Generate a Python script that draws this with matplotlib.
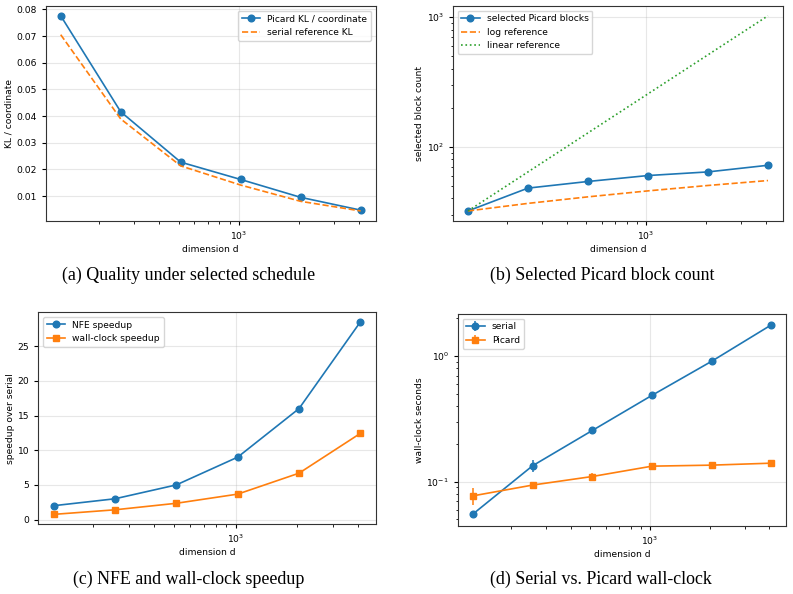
import matplotlib
matplotlib.use("Agg")
import matplotlib.pyplot as plt

# dimensions on the x axis (shared by all panels)
dims = [128, 256, 512, 1024, 2048, 4096]

# (a) quality
picard_kl = [0.0776, 0.0416, 0.0227, 0.0162, 0.0095, 0.0047]
serial_kl = [0.0705, 0.0389, 0.0213, 0.0141, 0.0080, 0.0044]

# (b) block count
picard_blocks = [32, 48, 54, 60, 64, 72]
log_ref = [32, 36.6, 41.1, 45.7, 50.3, 54.9]
linear_ref = [32, 64, 128, 256, 512, 1024]

# (c) speedups
nfe_speedup = [2.0, 3.0, 5.0, 9.0, 16.0, 28.5]
wall_speedup = [0.75, 1.41, 2.35, 3.67, 6.69, 12.43]

# (d) wall-clock seconds, mean and spread
serial_sec = [0.0552, 0.134, 0.256, 0.488, 0.912, 1.78]
serial_err = [0.002, 0.015, 0.012, 0.03, 0.03, 0.04]
picard_sec = [0.0771, 0.094, 0.110, 0.133, 0.1355, 0.1405]
picard_err = [0.012, 0.003, 0.008, 0.006, 0.004, 0.009]

captions = [
    "(a) Quality under selected schedule",
    "(b) Selected Picard block count",
    "(c) NFE and wall-clock speedup",
    "(d) Serial vs. Picard wall-clock",
]

W, H = 793, 594
FS = 6.6
plt.rcParams.update({
    "font.size": FS,
    "axes.labelsize": FS,
    "xtick.labelsize": FS,
    "ytick.labelsize": FS,
    "legend.fontsize": FS,
    "axes.linewidth": 0.8,
    "axes.edgecolor": "#333333",
    "xtick.major.width": 0.8,
    "ytick.major.width": 0.8,
    "xtick.major.size": 3,
    "ytick.major.size": 3,
    "xtick.minor.size": 1.8,
    "ytick.minor.size": 1.8,
    "axes.labelpad": 2,
})

fig = plt.figure(figsize=(W / 100, H / 100), dpi=100)


def add_ax(left, right, top, bottom):
    return fig.add_axes([left / W, 1 - bottom / H, (right - left) / W, (bottom - top) / H])


boxes = [
    (45.7, 375.7, 6, 220.7),
    (453, 783, 6, 220.7),
    (38.3, 375.7, 312.3, 524),
    (458, 786.3, 314, 525.7),
]
axes = [add_ax(*b) for b in boxes]

lw = 1.2
ms = 4.8

ax = axes[0]
ax.plot(dims, picard_kl, "o-", color="#1f77b4", lw=lw, ms=ms, label="Picard KL / coordinate")
ax.plot(dims, serial_kl, "--", color="#ff7f0e", lw=lw, label="serial reference KL")
ax.set_xscale("log")
ax.set_ylabel("KL / coordinate")
ax.legend(loc="upper right")

ax = axes[1]
ax.plot(dims, picard_blocks, "o-", color="#1f77b4", lw=lw, ms=ms, label="selected Picard blocks")
ax.plot(dims, log_ref, "--", color="#ff7f0e", lw=lw, label="log reference")
ax.plot(dims, linear_ref, ":", color="#2ca02c", lw=lw, label="linear reference")
ax.set_xscale("log")
ax.set_yscale("log")
ax.set_ylabel("selected block count")
ax.legend(loc="upper left")

ax = axes[2]
ax.plot(dims, nfe_speedup, "o-", color="#1f77b4", lw=lw, ms=ms, label="NFE speedup")
ax.plot(dims, wall_speedup, "s-", color="#ff7f0e", lw=lw, ms=ms, label="wall-clock speedup")
ax.set_xscale("log")
ax.set_ylabel("speedup over serial")
ax.legend(loc="upper left")

ax = axes[3]
ax.errorbar(dims, serial_sec, yerr=serial_err, fmt="o-", color="#1f77b4", lw=lw, ms=ms,
            elinewidth=1.1, label="serial")
ax.errorbar(dims, picard_sec, yerr=picard_err, fmt="s-", color="#ff7f0e", lw=lw, ms=ms,
            elinewidth=1.1, label="Picard")
ax.set_xscale("log")
ax.set_yscale("log")
ax.set_ylabel("wall-clock seconds")
ax.legend(loc="upper left")

for ax in axes:
    ax.set_xlabel("dimension d")
    ax.grid(True, alpha=0.3)

cap_pos = [(189, 275), (602, 275), (189, 579), (601, 579)]
for (cx, cy), text in zip(cap_pos, captions):
    fig.text(cx / W, 1 - cy / H, text, ha="center", va="center",
             family="Liberation Serif", fontsize=12.9)

fig.savefig("out.png", dpi=100)
